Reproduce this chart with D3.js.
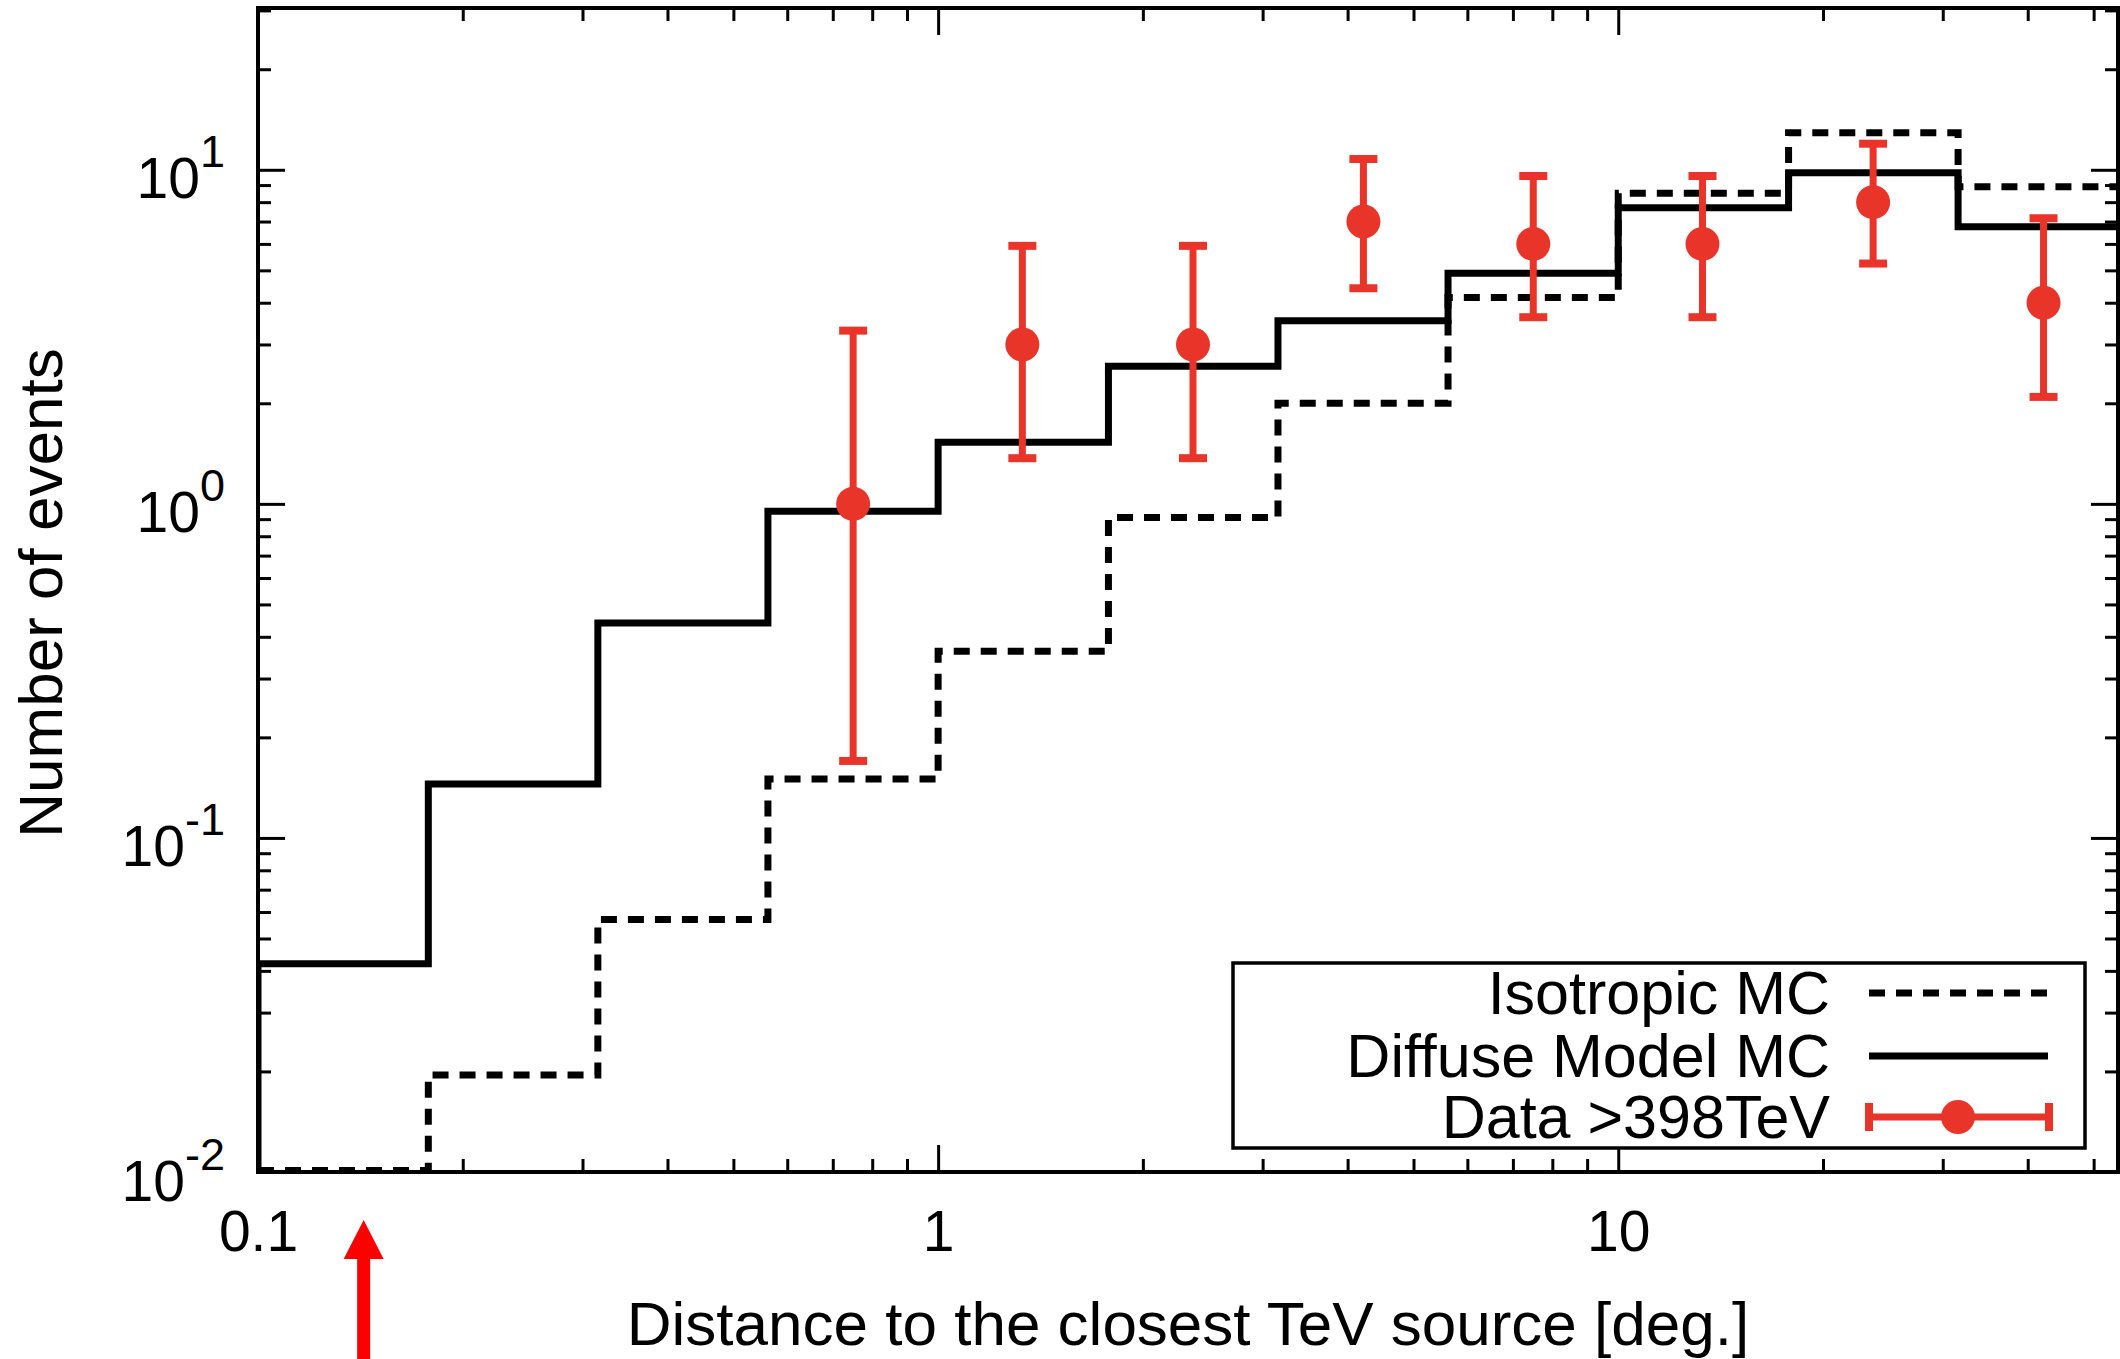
<!DOCTYPE html>
<html>
<head>
<meta charset="utf-8">
<script src="https://cdn.jsdelivr.net/npm/d3@7"></script>
<style>
  body { margin: 0; background: white; }
  svg { display: block; font-family: "Liberation Sans", Arial, Helvetica, sans-serif; }
  .axis line { stroke: black; stroke-width: 3; }
</style>
</head>
<body>
<script>
// histogram bin edges (deg.), 4 bins per decade
let bin_edges = [0.1, 0.178, 0.316, 0.562, 1, 1.78, 3.16, 5.62, 10, 17.8, 31.6, 56.2];
let isotropic_mc = [0.0101, 0.0195, 0.057, 0.15, 0.362, 0.91, 2.0, 4.15, 8.5, 12.9, 8.9];
let diffuse_mc = [0.042, 0.145, 0.44, 0.95, 1.53, 2.58, 3.53, 4.9, 7.7, 9.8, 6.75];

// data points >398TeV
let data_x = [0.75, 1.33, 2.37, 4.22, 7.5, 13.3, 23.7, 42.2];
let data_n = [1, 3, 3, 7, 6, 6, 8, 4];
let data_low = [0.17, 1.37, 1.37, 4.42, 3.62, 3.62, 5.24, 2.09];
let data_high = [3.3, 5.92, 5.92, 10.77, 9.58, 9.58, 11.97, 7.16];

let x_ticks = [0.1, 1, 10];
let x_tick_labels = ["0.1", "1", "10"];
let y_ticks = [0.01, 0.1, 1, 10];
let y_tick_exps = ["-2", "-1", "0", "1"];

let legend_labels = ["Isotropic MC", "Diffuse Model MC", "Data >398TeV"];
let arrow_at = 0.143;

let red = "#e9342a";

let plot = { left: 258, right: 2118, top: 8, bottom: 1172 };

let svg = d3.select("body").append("svg")
  .attr("width", 2120)
  .attr("height", 1359);

let x_scale = d3.scaleLog()
  .domain([0.1, 54.3])
  .range([plot.left, plot.right]);
let y_scale = d3.scaleLog()
  .domain([0.01, 30.5])
  .range([plot.bottom, plot.top]);

function minor_ticks(decades, max) {
  let out = [];
  decades.forEach(d => {
    for (let k = 2; k <= 9; k++) {
      if (d * k <= max) out.push(d * k);
    }
  });
  return out;
}
let x_minor = minor_ticks([0.1, 1, 10], 54.3);
let y_minor = minor_ticks([0.01, 0.1, 1, 10], 30.5);

svg.append("clipPath").attr("id", "plot-clip")
  .append("rect")
  .attr("x", plot.left)
  .attr("y", plot.top)
  .attr("width", plot.right - plot.left)
  .attr("height", plot.bottom - plot.top);

// axes, ticks pointing inward on all four sides
function add_axis(axis_fn, scale, values, size, transform) {
  let g = svg.append("g")
    .classed("axis", true)
    .attr("transform", transform)
    .call(axis_fn(scale).tickValues(values).tickSizeInner(-size).tickSizeOuter(0).tickFormat(""));
  g.select(".domain").remove();
  return g;
}

let x_bottom = add_axis(d3.axisBottom, x_scale, x_ticks, 27, "translate(0," + plot.bottom + ")");
add_axis(d3.axisBottom, x_scale, x_minor, 13, "translate(0," + plot.bottom + ")");
add_axis(d3.axisTop, x_scale, x_ticks, 27, "translate(0," + plot.top + ")");
add_axis(d3.axisTop, x_scale, x_minor, 13, "translate(0," + plot.top + ")");

let y_left = add_axis(d3.axisLeft, y_scale, y_ticks, 27, "translate(" + plot.left + ",0)");
add_axis(d3.axisLeft, y_scale, y_minor, 13, "translate(" + plot.left + ",0)");
add_axis(d3.axisRight, y_scale, y_ticks, 27, "translate(" + plot.right + ",0)");
add_axis(d3.axisRight, y_scale, y_minor, 13, "translate(" + plot.right + ",0)");

x_bottom.selectAll(".tick text")
  .text((d, i) => x_tick_labels[i])
  .attr("y", 79)
  .attr("dy", null)
  .attr("font-size", 57)
  .attr("font-family", null)
  .attr("fill", "black");

y_left.selectAll(".tick text")
  .text("")
  .attr("x", -33)
  .attr("dy", 28)
  .attr("font-size", 57)
  .attr("font-family", null)
  .attr("fill", "black")
  .each(function (d, i) {
    let t = d3.select(this);
    t.append("tspan").text("10");
    t.append("tspan").attr("dy", -31).attr("font-size", 45).text(y_tick_exps[i]);
  });

// frame
svg.append("rect")
  .attr("x", plot.left)
  .attr("y", plot.top)
  .attr("width", plot.right - plot.left)
  .attr("height", plot.bottom - plot.top)
  .attr("fill", "none")
  .attr("stroke", "black")
  .attr("stroke-width", 4);

// step histograms
let step_line = d3.line()
  .x(d => x_scale(d[0]))
  .y(d => y_scale(d[1]));

function step_path(values) {
  let pts = [[bin_edges[0], 0.01]];
  values.forEach((v, i) => {
    pts.push([bin_edges[i], v]);
    pts.push([bin_edges[i + 1], v]);
  });
  return pts;
}

let hist_g = svg.append("g").attr("clip-path", "url(#plot-clip)");

hist_g.append("path")
  .datum(step_path(isotropic_mc).slice(1))
  .attr("d", step_line)
  .attr("fill", "none")
  .attr("stroke", "black")
  .attr("stroke-width", 7)
  .attr("stroke-dasharray", "16,11")
  .attr("stroke-linejoin", "miter");

hist_g.append("path")
  .datum(step_path(diffuse_mc))
  .attr("d", step_line)
  .attr("fill", "none")
  .attr("stroke", "black")
  .attr("stroke-width", 7)
  .attr("stroke-linejoin", "miter");

// data with error bars
let points = data_x.map((x, i) => ({ x: x, n: data_n[i], lo: data_low[i], hi: data_high[i] }));

let pt = svg.append("g")
  .attr("clip-path", "url(#plot-clip)")
  .selectAll("g.pt")
  .data(points)
  .join("g")
  .classed("pt", true);

pt.append("line")
  .attr("x1", d => x_scale(d.x))
  .attr("x2", d => x_scale(d.x))
  .attr("y1", d => y_scale(d.lo))
  .attr("y2", d => y_scale(d.hi))
  .attr("stroke", red)
  .attr("stroke-width", 7);

pt.selectAll("line.cap")
  .data(d => [[d.x, d.lo], [d.x, d.hi]])
  .join("line")
  .classed("cap", true)
  .attr("x1", d => x_scale(d[0]) - 14)
  .attr("x2", d => x_scale(d[0]) + 14)
  .attr("y1", d => y_scale(d[1]))
  .attr("y2", d => y_scale(d[1]))
  .attr("stroke", red)
  .attr("stroke-width", 8);

pt.append("circle")
  .attr("cx", d => x_scale(d.x))
  .attr("cy", d => y_scale(d.n))
  .attr("r", 17)
  .attr("fill", red);

// legend
let legend = svg.append("g");
legend.append("rect")
  .attr("x", 1233)
  .attr("y", 963)
  .attr("width", 852)
  .attr("height", 185)
  .attr("fill", "white")
  .attr("stroke", "black")
  .attr("stroke-width", 3.5);

let row_y = [993, 1056, 1117];
legend.selectAll("text")
  .data(legend_labels)
  .join("text")
  .attr("x", 1830)
  .attr("y", (d, i) => row_y[i] + 21)
  .attr("text-anchor", "end")
  .attr("font-size", 61)
  .text(d => d);

legend.append("line")
  .attr("x1", 1869).attr("x2", 2048)
  .attr("y1", row_y[0]).attr("y2", row_y[0])
  .attr("stroke", "black")
  .attr("stroke-width", 7)
  .attr("stroke-dasharray", "16,11");
legend.append("line")
  .attr("x1", 1869).attr("x2", 2048)
  .attr("y1", row_y[1]).attr("y2", row_y[1])
  .attr("stroke", "black")
  .attr("stroke-width", 7);
legend.append("line")
  .attr("x1", 1869).attr("x2", 2049)
  .attr("y1", row_y[2]).attr("y2", row_y[2])
  .attr("stroke", red)
  .attr("stroke-width", 7);
[1869, 2049].forEach(cx => {
  legend.append("line")
    .attr("x1", cx).attr("x2", cx)
    .attr("y1", row_y[2] - 14).attr("y2", row_y[2] + 14)
    .attr("stroke", red)
    .attr("stroke-width", 8);
});
legend.append("circle")
  .attr("cx", 1958)
  .attr("cy", row_y[2])
  .attr("r", 17)
  .attr("fill", red);

// axis titles
svg.append("text")
  .attr("x", (plot.left + plot.right) / 2)
  .attr("y", 1345)
  .attr("text-anchor", "middle")
  .attr("font-size", 62)
  .text("Distance to the closest TeV source [deg.]");

svg.append("text")
  .attr("transform", "translate(62,593) rotate(-90)")
  .attr("text-anchor", "middle")
  .attr("font-size", 62)
  .text("Number of events");

// red arrow below the axis
let ax = x_scale(arrow_at);
svg.append("path")
  .attr("d", "M" + ax + ",1220 L" + (ax + 20) + ",1259 L" + (ax + 6.5) + ",1259 L" + (ax + 6.5) + ",1359 L" +
    (ax - 6.5) + ",1359 L" + (ax - 6.5) + ",1259 L" + (ax - 20) + ",1259 Z")
  .attr("fill", "#ff0000");
</script>
</body>
</html>
